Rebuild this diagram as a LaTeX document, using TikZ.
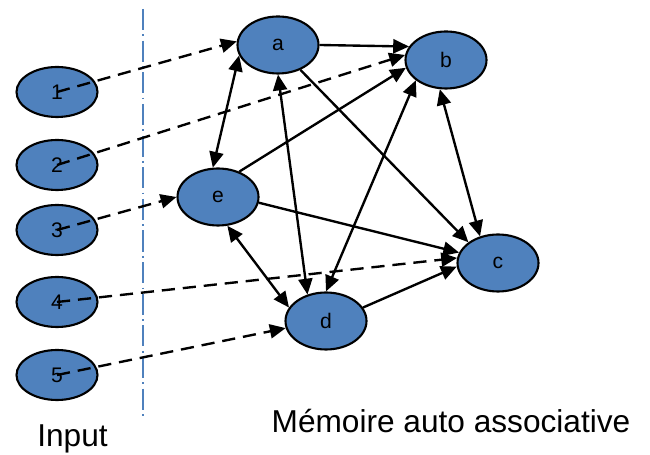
\documentclass[tikz,border=0pt]{standalone}
\usepackage{fontspec}
\setmainfont{Liberation Sans}
\usetikzlibrary{shapes.geometric,arrows.meta}

\definecolor{neuronblue}{HTML}{4F81BD}
\tikzset{
  neuron/.style={ellipse, draw=black, line width=1.2pt, fill=neuronblue,
    inner sep=0pt, minimum width=1.62cm, minimum height=1.14cm,
    font=\fontsize{12}{14}\selectfont},
  inNeuron/.style={neuron, minimum height=1.0cm},
  link/.style={line width=1.35pt, -{Triangle[length=9pt,width=8pt]}},
  biLink/.style={link, {Triangle[length=9pt,width=8pt]}-{Triangle[length=9pt,width=8pt]}},
  inLink/.style={link, dash pattern=on 7.5pt off 4.5pt},
  divider/.style={draw=neuronblue, line width=0.8pt, dash pattern=on 12pt off 2.5pt on 1pt off 2.5pt},
  caption/.style={anchor=base, font=\fontsize{18}{22}\selectfont}
}

\begin{document}
\begin{tikzpicture}
    \useasboundingbox (0,0) rectangle (13,9.1);

    % Separation between input and memory
    \coordinate (divTop) at (2.86,8.92);
    \coordinate (divBottom) at (2.86,0.70);
    \draw[divider] (divTop) -- (divBottom);

    % Input neurons
    \node[inNeuron] (in1) at (1.14,7.26) {1};
    \node[inNeuron] (in2) at (1.14,5.80) {2};
    \node[inNeuron] (in3) at (1.14,4.50) {3};
    \node[inNeuron] (in4) at (1.14,3.06) {4};
    \node[inNeuron] (in5) at (1.14,1.60) {5};

    % Memory neurons
    \node[neuron] (a) at (5.56,8.20) {a};
    \node[neuron] (b) at (8.92,7.90) {b};
    \node[neuron] (e) at (4.36,5.16) {e};
    \node[neuron] (c) at (9.96,3.84) {c};
    \node[neuron] (d) at (6.52,2.68) {d};

    % Input links
    \draw[inLink] (in1.center) -- (a.175);
    \draw[inLink] (in2.center) -- (b.173);
    \draw[inLink] (in3.center) -- (e.180);
    \draw[inLink] (in4.center) -- (c.173);
    \draw[inLink] (in5.center) -- (d.190);

    % Links inside the memory
    \draw[link] (a.0) -- (b.160);
    \draw[link] (a.312) -- (c.145);
    \draw[link] (e.50) -- (b.191);
    \draw[link] (e.352) -- (c.165);
    \draw[link] (d.20) -- (c.185);
    \draw[biLink] (a.195) -- (e.100);
    \draw[biLink] (a.270) -- (d.125);
    \draw[biLink] (e.288) -- (d.160);
    \draw[biLink] (d.90) -- (b.214);
    \draw[biLink] (b.258) -- (c.124);

    % Captions
    \node[caption] (inCap) at (1.45,0.16) {Input};
    \node[caption] (memCap) at (9.02,0.44) {Mémoire auto associative};
\end{tikzpicture}
\end{document}
